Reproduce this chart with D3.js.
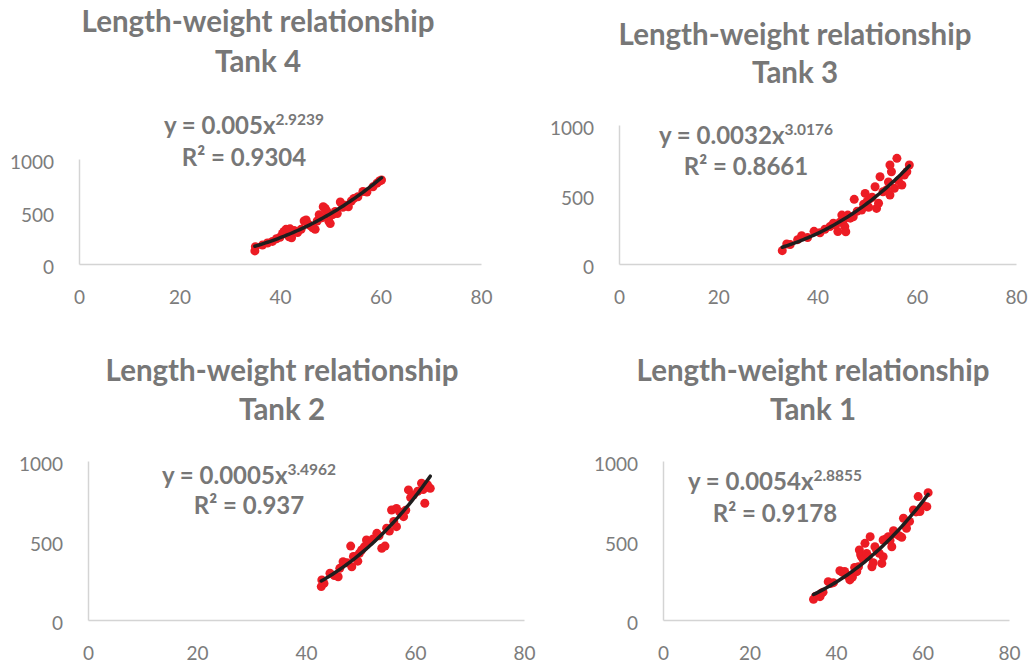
<!DOCTYPE html>
<html><head><meta charset="utf-8">
<script src="https://cdn.jsdelivr.net/npm/d3@7"></script>
<style>body{margin:0;background:#fff}svg{display:block}</style>
</head><body>
<svg id="c" width="1028" height="665"></svg>
<script>
// ---- data ----
const titleText = "Length-weight relationship";
const tankNames = ["Tank 4", "Tank 3", "Tank 2", "Tank 1"];
const coefs = ["0.005", "0.0032", "0.0005", "0.0054"];
const exps = ["2.9239", "3.0176", "3.4962", "2.8855"];
const r2s = ["0.9304", "0.8661", "0.937", "0.9178"];
const xTicks = [0, 20, 40, 60, 80];
const yTicks = [0, 500, 1000];

const tank4 = [[35.0,125],[35.1,165],[36.5,180],[37.5,200],[38.5,215],[39.3,240],[40.0,255],[40.5,290],[40.8,310],[41.2,330],[41.5,300],[41.8,260],[42.0,335],[42.3,250],[42.8,320],[43.5,300],[44.2,330],[44.8,410],[45.2,420],[45.6,380],[46.0,365],[46.5,345],[47.0,330],[47.4,410],[47.8,470],[48.3,440],[48.6,545],[49.0,530],[49.3,505],[49.7,410],[50.0,385],[50.5,470],[51.0,500],[51.4,480],[52.0,590],[52.5,540],[53.0,560],[53.6,545],[54.2,600],[54.7,625],[55.5,640],[56.5,690],[57.3,685],[58.5,735],[59.3,770],[59.8,790],[60.2,800]];
const tank3 = [[32.9,96],[33.8,144],[34.5,140],[36.0,175],[36.8,204],[38.0,190],[39.3,235],[40.5,225],[41.5,250],[42.5,269],[43.2,293],[43.6,280],[44.1,233],[44.5,300],[44.9,352],[45.3,320],[45.5,269],[45.7,232],[46.1,352],[46.6,330],[47.2,340],[47.4,465],[48.0,380],[48.9,388],[49.3,430],[49.6,508],[50.0,450],[50.3,408],[50.6,470],[51.0,480],[51.6,556],[51.9,400],[52.3,437],[52.6,628],[53.2,520],[53.9,532],[54.3,590],[54.6,496],[54.6,712],[54.9,664],[55.5,545],[56.0,760],[56.3,600],[57.0,568],[57.5,640],[58.0,664],[58.5,712]];
const tank2 = [[42.8,210],[42.9,252],[43.3,230],[44.4,294],[45.2,280],[45.9,272],[46.2,325],[46.8,367],[47.5,360],[48.2,465],[48.4,335],[48.7,400],[49.0,398],[49.5,370],[49.8,420],[50.2,440],[50.7,460],[51.1,503],[51.6,490],[52.3,510],[53.0,545],[53.4,530],[53.9,451],[54.5,465],[54.8,577],[55.3,560],[55.7,692],[56.1,620],[56.6,702],[56.6,587],[57.2,680],[57.9,650],[58.3,690],[58.8,818],[59.2,770],[59.7,786],[60.5,810],[61.2,860],[61.5,820],[61.8,734],[62.3,850],[62.8,828]];
const tank1 = [[34.8,130],[35.3,150],[36.3,147],[36.6,168],[37.0,175],[38.2,241],[38.8,230],[39.4,235],[40.9,310],[41.5,300],[42.0,305],[42.6,280],[43.2,252],[43.8,270],[44.3,330],[44.8,304],[45.2,335],[45.4,440],[45.7,410],[45.9,398],[46.3,380],[46.7,482],[47.1,419],[47.5,400],[47.9,524],[48.3,335],[48.6,360],[49.0,461],[49.4,440],[50.0,420],[50.6,356],[50.9,398],[50.9,503],[51.5,510],[52.1,524],[52.5,500],[52.9,461],[53.3,562],[54.0,540],[54.6,530],[55.2,520],[55.6,640],[56.3,577],[57.0,620],[57.9,692],[58.5,680],[59.0,776],[59.4,682],[60.2,720],[61.0,713],[61.3,801]];
const tankData = [tank4, tank3, tank2, tank1];

// ---- layout ----
const layout = [
  {x0:79,  x1:481,  yb:264, yt:159, tx:258, ty1:32,  ty2:72,  ex:244, ey1:134, ey2:166},
  {x0:619, x1:1016, yb:264, yt:125, tx:795, ty1:45,  ty2:83,  ex:746, ey1:144, ey2:175},
  {x0:88,  x1:524,  yb:620, yt:461, tx:282, ty1:381, ty2:420, ex:249, ey1:484, ey2:514},
  {x0:663, x1:1009, yb:620, yt:461, tx:813, ty1:381, ty2:420, ex:775, ey1:490, ey2:522}
];

const GRAY = "#777777";
const svg = d3.select("#c");
svg.append("rect").attr("width",1028).attr("height",665).attr("fill","#fff");

function powerFit(pts){
  const lx = pts.map(d=>Math.log(d[0])), ly = pts.map(d=>Math.log(d[1]));
  const mx = d3.mean(lx), my = d3.mean(ly);
  let sxy=0, sxx=0;
  for (let i=0;i<lx.length;i++){ sxy+=(lx[i]-mx)*(ly[i]-my); sxx+=(lx[i]-mx)**2; }
  const b = sxy/sxx, a = Math.exp(my-b*mx);
  return x => a*Math.pow(x,b);
}

tankData.forEach((pts,i)=>{
  const L = layout[i];
  const x = d3.scaleLinear().domain([0,80]).range([L.x0,L.x1]);
  const y = d3.scaleLinear().domain([0,1000]).range([L.yb,L.yt]);
  const g = svg.append("g");

  // axes
  const xa = g.append("g").attr("transform",`translate(0,${L.yb})`)
    .call(d3.axisBottom(x).tickValues(xTicks).tickFormat(d3.format("d")).tickSize(0).tickSizeOuter(0).tickPadding(27));
  const ya = g.append("g").attr("transform",`translate(${L.x0},0)`)
    .call(d3.axisLeft(y).tickValues(yTicks).tickFormat(d3.format("d")).tickSize(0).tickSizeOuter(0).tickPadding(25));
  [xa,ya].forEach(a=>{
    a.select(".domain").attr("stroke","#d4d4d4").attr("stroke-width",1.5);
    a.selectAll("text").attr("fill","#7c7c7c").attr("font-family","Lato, sans-serif").attr("font-size",19);
  });
  ya.selectAll("text").attr("dy","0.5em");

  // points
  g.append("g").selectAll("circle").data(pts).join("circle")
    .attr("cx",d=>x(d[0])).attr("cy",d=>y(d[1])).attr("r",4.5).attr("fill","#ec1c24");

  // trendline
  const f = powerFit(pts);
  const [xmin,xmax] = d3.extent(pts,d=>d[0]);
  const xs = d3.range(0,61).map(k=>xmin+(xmax-xmin)*k/60);
  g.append("path").datum(xs)
    .attr("d", d3.line().x(v=>x(v)).y(v=>y(f(v))))
    .attr("fill","none").attr("stroke","#1e1e1e").attr("stroke-width",3.5).attr("stroke-linecap","round");

  // titles
  const tt = g.append("g").attr("fill",GRAY).attr("font-family","Lato, sans-serif")
    .attr("font-weight","bold").attr("font-size",29.5).attr("text-anchor","middle");
  tt.append("text").attr("x",L.tx).attr("y",L.ty1).text(titleText);
  tt.append("text").attr("x",L.tx).attr("y",L.ty2).text(tankNames[i]);

  // equation
  const eq = g.append("g").attr("fill",GRAY).attr("font-family","Lato, sans-serif")
    .attr("font-weight","bold").attr("text-anchor","middle");
  const t1 = eq.append("text").attr("x",L.ex).attr("y",L.ey1).attr("font-size",24);
  t1.append("tspan").text(`y = ${coefs[i]}x`);
  t1.append("tspan").attr("dy",-9).attr("font-size",15.5).text(exps[i]);
  eq.append("text").attr("x",L.ex).attr("y",L.ey2).attr("font-size",24).text(`R² = ${r2s[i]}`);
});
</script>
</body></html>
